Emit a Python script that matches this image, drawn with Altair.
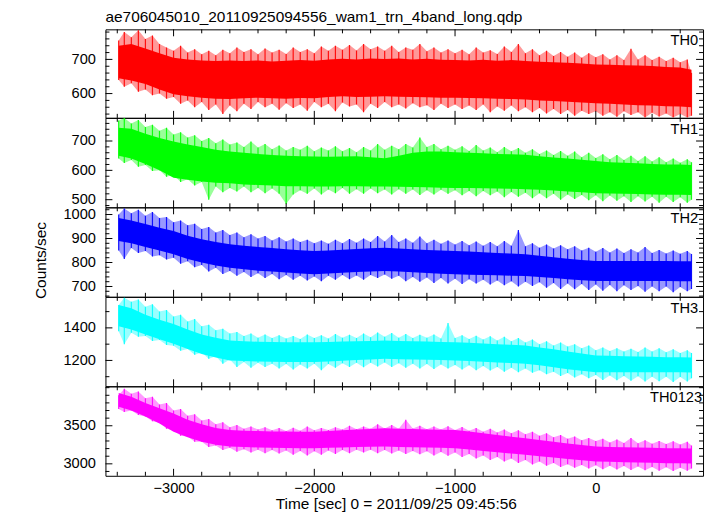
import altair as alt
import pandas as pd

FONT = "Liberation Sans"
TITLE = "ae706045010_20110925094556_wam1_trn_4band_long.qdp"
X_TITLE = "Time [sec] 0 = 2011/09/25 09:45:56"
Y_TITLE = "Counts/sec"

# ---- outer envelope (spikes), 50 s bins ----
TIME = [
    -3390, -3350, -3300, -3250, -3200, -3150, -3100, -3050, -3000, -2950,
    -2900, -2850, -2800, -2750, -2700, -2650, -2600, -2550, -2500, -2450,
    -2400, -2350, -2300, -2250, -2200, -2150, -2100, -2050, -2000, -1950,
    -1900, -1850, -1800, -1750, -1700, -1650, -1600, -1550, -1500, -1450,
    -1400, -1350, -1300, -1250, -1200, -1150, -1100, -1050, -1000, -950,
    -900, -850, -800, -750, -700, -650, -600, -550, -500, -450,
    -400, -350, -300, -250, -200, -150, -100, -50, 0, 50,
    100, 150, 200, 250, 300, 350, 400, 450, 500, 550,
    600, 650, 680,
]

TH0_HI = [
    755, 780, 765, 785, 760, 770, 745, 735, 725, 740,
    720, 730, 715, 725, 712, 728, 718, 735, 722, 730,
    715, 732, 720, 728, 716, 735, 722, 730, 718, 738,
    725, 740, 728, 742, 726, 745, 730, 738, 725, 740,
    722, 735, 728, 745, 724, 735, 720, 730, 718, 728,
    715, 735, 720, 727, 716, 738, 722, 745, 718, 730,
    712, 725, 710, 722, 708, 720, 705, 718, 706, 715,
    700, 712, 698, 731, 700, 712, 698, 708, 695, 705,
    692, 700, 660,
]
TH0_LO = [
    640, 620, 630, 605, 612, 595, 600, 585, 590, 570,
    580, 560, 575, 552, 568, 540, 565, 548, 570, 555,
    575, 560, 570, 553, 572, 558, 568, 550, 575, 560,
    570, 548, 574, 562, 568, 545, 570, 558, 575, 560,
    568, 556, 572, 560, 566, 552, 570, 558, 568, 555,
    565, 552, 568, 545, 562, 550, 565, 548, 560, 545,
    558, 542, 555, 540, 552, 535, 550, 540, 548, 535,
    545, 532, 548, 537, 545, 530, 544, 533, 542, 530,
    540, 530, 535,
]
TH1_HI = [
    770, 778, 760, 772, 748, 755, 735, 745, 722, 730,
    712, 720, 700, 710, 692, 705, 688, 695, 680, 698,
    678, 690, 672, 685, 668, 680, 670, 684, 665, 678,
    668, 682, 665, 676, 662, 680, 668, 690, 670, 684,
    672, 690, 678, 712, 680, 690, 672, 684, 670, 682,
    666, 686, 668, 678, 662, 680, 665, 676, 660, 672,
    656, 668, 652, 666, 650, 664, 645, 660, 642, 655,
    638, 652, 635, 650, 632, 648, 630, 645, 628, 640,
    626, 638, 628,
]
TH1_LO = [
    640, 625, 635, 612, 618, 598, 600, 578, 585, 560,
    570, 548, 560, 500, 545, 525, 540, 528, 545, 525,
    540, 522, 538, 520, 485, 518, 532, 520, 538, 518,
    535, 522, 540, 520, 536, 520, 538, 522, 535, 518,
    536, 520, 535, 516, 532, 518, 534, 520, 532, 515,
    530, 512, 530, 515, 528, 508, 526, 510, 524, 505,
    522, 505, 520, 500, 518, 502, 516, 498, 515, 495,
    514, 496, 512, 492, 512, 494, 510, 490, 510, 492,
    508, 490, 500,
]
TH2_HI = [
    1000, 1025, 1005, 1020, 995, 1010, 985, 990, 968, 975,
    955, 962, 940, 948, 925, 935, 915, 925, 905, 918,
    900, 910, 892, 905, 888, 900, 885, 895, 880, 892,
    878, 895, 880, 898, 882, 900, 885, 910, 888, 915,
    885, 900, 882, 908, 880, 895, 878, 892, 875, 890,
    872, 888, 870, 885, 868, 890, 870, 935, 868, 880,
    862, 875, 858, 872, 855, 868, 850, 862, 845, 860,
    842, 858, 840, 855, 842, 865, 840, 852, 838, 850,
    836, 848, 835,
]
TH2_LO = [
    850, 815, 860, 840, 848, 825, 830, 812, 820, 795,
    805, 780, 790, 762, 778, 752, 765, 745, 760, 740,
    755, 735, 752, 730, 748, 728, 745, 725, 742, 722,
    745, 728, 748, 730, 746, 728, 748, 735, 750, 732,
    745, 722, 740, 720, 738, 715, 735, 712, 732, 710,
    730, 712, 728, 708, 725, 705, 722, 700, 720, 702,
    718, 695, 715, 690, 712, 688, 710, 685, 708, 682,
    706, 680, 705, 685, 702, 678, 700, 680, 700, 676,
    698, 680, 690,
]
TH3_HI = [
    1540, 1585, 1560, 1575, 1530, 1545, 1500, 1510, 1470, 1480,
    1440, 1455, 1410, 1420, 1385, 1395, 1365, 1375, 1350, 1365,
    1340, 1360, 1338, 1355, 1335, 1350, 1332, 1360, 1338, 1355,
    1335, 1362, 1340, 1358, 1338, 1365, 1342, 1372, 1345, 1368,
    1340, 1362, 1338, 1358, 1340, 1360, 1335, 1430, 1338, 1355,
    1332, 1352, 1328, 1348, 1322, 1345, 1318, 1338, 1310, 1328,
    1300, 1318, 1292, 1310, 1285, 1300, 1275, 1292, 1262, 1280,
    1258, 1275, 1255, 1272, 1252, 1280, 1255, 1275, 1250, 1268,
    1245, 1262, 1245,
]
TH3_LO = [
    1380, 1300, 1370, 1345, 1350, 1320, 1325, 1295, 1290, 1260,
    1270, 1235, 1248, 1210, 1225, 1180, 1205, 1160, 1190, 1155,
    1185, 1160, 1180, 1150, 1178, 1145, 1175, 1150, 1180, 1140,
    1178, 1155, 1182, 1160, 1185, 1158, 1185, 1162, 1188, 1160,
    1182, 1155, 1180, 1150, 1178, 1148, 1175, 1150, 1172, 1145,
    1170, 1140, 1165, 1138, 1160, 1130, 1155, 1128, 1150, 1125,
    1140, 1115, 1130, 1105, 1122, 1095, 1115, 1090, 1110, 1080,
    1108, 1078, 1105, 1075, 1102, 1070, 1100, 1072, 1100, 1068,
    1098, 1070, 1090,
]
TH0123_HI = [
    3900, 3985, 3920, 3950, 3860, 3880, 3780, 3800, 3700, 3720,
    3630, 3650, 3570, 3590, 3520, 3545, 3480, 3510, 3460, 3490,
    3450, 3480, 3440, 3470, 3430, 3475, 3435, 3490, 3440, 3470,
    3445, 3480, 3450, 3500, 3455, 3490, 3460, 3520, 3465, 3510,
    3460, 3580, 3465, 3500, 3455, 3490, 3450, 3495, 3445, 3485,
    3435, 3470, 3420, 3460, 3410, 3450, 3400, 3440, 3390, 3420,
    3370, 3400, 3350, 3380, 3330, 3360, 3310, 3340, 3300, 3330,
    3280, 3320, 3275, 3340, 3270, 3310, 3265, 3300, 3260, 3295,
    3255, 3290, 3240,
]
TH0123_LO = [
    3720, 3680, 3700, 3640, 3620, 3560, 3540, 3460, 3440, 3370,
    3360, 3290, 3290, 3220, 3240, 3180, 3210, 3160, 3190, 3150,
    3185, 3140, 3180, 3135, 3175, 3120, 3170, 3110, 3165, 3120,
    3175, 3130, 3180, 3140, 3185, 3150, 3185, 3140, 3180, 3135,
    3175, 3130, 3170, 3125, 3165, 3110, 3155, 3105, 3150, 3090,
    3130, 3070, 3110, 3050, 3090, 3030, 3070, 3010, 3050, 2990,
    3030, 2975, 3010, 2960, 2995, 2950, 2985, 2940, 2980, 2930,
    2975, 2925, 2970, 2920, 2965, 2915, 2960, 2910, 2955, 2905,
    2950, 2910, 2940,
]

# ---- dense core of each band, 100 s bins ----
CORE_TIME = [
    -3390, -3300, -3200, -3100, -3000, -2900, -2800, -2700, -2600, -2500,
    -2400, -2300, -2200, -2100, -2000, -1900, -1800, -1700, -1600, -1500,
    -1400, -1300, -1200, -1100, -1000, -900, -800, -700, -600, -500,
    -400, -300, -200, -100, 0, 100, 200, 300, 400, 500,
    600, 680,
]
TH0_CORE_HI = [
    740, 745, 732, 718, 705, 700, 697, 695, 697, 695,
    697, 694, 696, 698, 696, 700, 702, 700, 703, 701,
    703, 700, 702, 699, 698, 697, 699, 696, 698, 695,
    693, 692, 690, 688, 685, 684, 683, 682, 681, 678,
    676, 670,
]
TH0_CORE_LO = [
    645, 638, 628, 612, 598, 592, 588, 585, 584, 586,
    588, 586, 585, 587, 586, 590, 592, 590, 591, 592,
    591, 590, 589, 588, 588, 587, 586, 585, 584, 583,
    580, 578, 576, 574, 572, 570, 568, 566, 565, 563,
    562, 560,
]
TH1_CORE_HI = [
    745, 742, 725, 710, 698, 688, 680, 670, 664, 660,
    656, 652, 650, 648, 647, 646, 647, 648, 645, 641,
    650, 660, 664, 664, 662, 660, 658, 656, 655, 653,
    648, 644, 640, 636, 632, 628, 626, 624, 622, 620,
    620, 618,
]
TH1_CORE_LO = [
    650, 640, 622, 600, 575, 568, 562, 558, 556, 552,
    550, 548, 546, 546, 545, 545, 546, 546, 545, 545,
    544, 543, 542, 541, 540, 540, 539, 538, 537, 536,
    534, 531, 528, 525, 522, 521, 520, 519, 518, 517,
    517, 516,
]
TH2_CORE_HI = [
    985, 975, 960, 945, 931, 912, 897, 885, 876, 870,
    865, 860, 855, 851, 848, 850, 853, 856, 859, 861,
    858, 855, 852, 850, 848, 846, 843, 840, 837, 834,
    828, 822, 816, 810, 806, 806, 806, 806, 806, 806,
    805, 805,
]
TH2_CORE_LO = [
    890, 880, 865, 850, 834, 815, 800, 788, 778, 772,
    766, 762, 758, 754, 751, 754, 757, 760, 763, 765,
    762, 759, 756, 753, 751, 749, 748, 747, 745, 744,
    740, 735, 730, 726, 723, 723, 723, 723, 723, 723,
    722, 722,
]
TH3_CORE_HI = [
    1540, 1520, 1480, 1450, 1424, 1390, 1360, 1340, 1322, 1318,
    1315, 1313, 1312, 1312, 1312, 1314, 1316, 1318, 1320, 1322,
    1320, 1318, 1316, 1314, 1312, 1308, 1304, 1300, 1296, 1292,
    1280, 1268, 1255, 1242, 1231, 1228, 1226, 1224, 1222, 1220,
    1220, 1218,
]
TH3_CORE_LO = [
    1410, 1390, 1360, 1330, 1302, 1270, 1240, 1218, 1200, 1196,
    1193, 1192, 1191, 1190, 1190, 1194, 1198, 1202, 1206, 1210,
    1208, 1206, 1204, 1202, 1200, 1196, 1192, 1188, 1184, 1180,
    1170, 1158, 1146, 1136, 1128, 1128, 1128, 1128, 1128, 1128,
    1128, 1126,
]
TH0123_CORE_HI = [
    3930, 3880, 3800, 3730, 3662, 3580, 3520, 3470, 3444, 3435,
    3430, 3426, 3424, 3422, 3422, 3430, 3440, 3450, 3458, 3466,
    3462, 3458, 3452, 3448, 3444, 3425, 3400, 3380, 3355, 3335,
    3312, 3290, 3268, 3246, 3226, 3222, 3218, 3214, 3210, 3205,
    3205, 3200,
]
TH0123_CORE_LO = [
    3750, 3700, 3620, 3530, 3422, 3350, 3290, 3250, 3226, 3220,
    3215, 3210, 3207, 3205, 3205, 3210, 3215, 3220, 3224, 3226,
    3222, 3218, 3214, 3210, 3205, 3188, 3170, 3152, 3135, 3118,
    3100, 3082, 3064, 3046, 3030, 3026, 3022, 3018, 3014, 3009,
    3008, 3005,
]

NAMES = ["TH0", "TH1", "TH2", "TH3", "TH0123"]
HI = [TH0_HI, TH1_HI, TH2_HI, TH3_HI, TH0123_HI]
LO = [TH0_LO, TH1_LO, TH2_LO, TH3_LO, TH0123_LO]
CORE_HI = [TH0_CORE_HI, TH1_CORE_HI, TH2_CORE_HI, TH3_CORE_HI, TH0123_CORE_HI]
CORE_LO = [TH0_CORE_LO, TH1_CORE_LO, TH2_CORE_LO, TH3_CORE_LO, TH0123_CORE_LO]
COLORS = ["#ff0000", "#00ff00", "#0000ff", "#00ffff", "#ff00ff"]

X_DOMAIN = [-3484, 762]
X_MAJOR = [-3000, -2000, -1000, 0]
X_MINOR = [-3400, -3200, -2800, -2600, -2400, -2200, -1800, -1600, -1400,
           -1200, -800, -600, -400, -200, 200, 400, 600]

Y_DOMAINS = [[529, 788], [474, 779], [657, 1030], [1041, 1591], [2843, 4018]]
Y_MAJOR = [[600, 700], [500, 600, 700], [700, 800, 900, 1000], [1200, 1400], [3000, 3500]]
Y_MINOR = [
    [540, 560, 580, 620, 640, 660, 680, 720, 740, 760, 780],
    [480, 520, 540, 560, 580, 620, 640, 660, 680, 720, 740, 760],
    [660, 680, 720, 740, 760, 780, 820, 840, 860, 880, 920, 940, 960, 980, 1020],
    [1100, 1300, 1500],
    [2900, 3100, 3200, 3300, 3400, 3600, 3700, 3800, 3900, 4000],
]

W = 601
HEIGHTS = [89, 90, 90, 90, 90]
LABEL_X = [W - 5, W - 5, W - 5, W - 5, W - 1]
MAJOR_LEN = 7
MINOR_LEN = 4


def panel(i):
    H = HEIGHTS[i]
    xs = alt.Scale(domain=X_DOMAIN, nice=False, zero=False)
    ys = alt.Scale(domain=Y_DOMAINS[i], nice=False, zero=False)

    if i == 4:
        xaxis = alt.Axis(values=X_MAJOR, format="d", orient="bottom", ticks=False,
                         tickSize=0, domain=False, grid=False, labelPadding=5,
                         labelFontSize=14.7, labelFont=FONT, labelColor="black",
                         labelFlush=False, title=X_TITLE, titleFont=FONT,
                         titleFontSize=15.5, titleFontWeight="normal",
                         titleColor="black", titleX=292, titleY=33,
                         titleBaseline="alphabetic", titleAlign="center")
    else:
        xaxis = None

    ykw = dict(values=Y_MAJOR[i], format="d", orient="left", ticks=False, tickSize=0,
               domain=False, grid=False, labelPadding=10, labelFontSize=14.7,
               labelFont=FONT, labelColor="black", labelFlush=False)
    if i == 2:
        ykw.update(title=Y_TITLE, titleFont=FONT, titleFontSize=15.5,
                   titleFontWeight="normal", titleColor="black", titleX=-60,
                   titleY=53, titleBaseline="alphabetic", titleAlign="center",
                   titleAngle=270)
    else:
        ykw.update(title=None)
    yaxis = alt.Axis(**ykw)

    outer = pd.DataFrame({"t": TIME, "hi": HI[i], "lo": LO[i]})
    core = pd.DataFrame({"t": CORE_TIME, "hi": CORE_HI[i], "lo": CORE_LO[i]})

    fringe = alt.Chart(outer).mark_area(color=COLORS[i], opacity=0.4, clip=True).encode(
        x=alt.X("t:Q", scale=xs, axis=xaxis),
        y=alt.Y("hi:Q", scale=ys, axis=yaxis),
        y2=alt.Y2("lo:Q"),
    )
    spikes = alt.Chart(outer).mark_rule(color=COLORS[i], opacity=0.9, strokeWidth=1.2,
                                        clip=True).encode(
        x=alt.X("t:Q", scale=xs, axis=None),
        y=alt.Y("hi:Q", scale=ys, axis=None),
        y2=alt.Y2("lo:Q"),
    )
    dense = alt.Chart(core).mark_area(color=COLORS[i], opacity=1, clip=True).encode(
        x=alt.X("t:Q", scale=xs, axis=None),
        y=alt.Y("hi:Q", scale=ys, axis=None),
        y2=alt.Y2("lo:Q"),
    )
    layers = [fringe, spikes, dense]

    # inward ticks on all four sides, drawn from the tick value lists
    for vals, size in [(Y_MAJOR[i], MAJOR_LEN), (Y_MINOR[i], MINOR_LEN)]:
        d = pd.DataFrame({"v": vals})
        for x0, x1 in [(0, size), (W, W - size)]:
            layers.append(alt.Chart(d).mark_rule(color="black", strokeWidth=1).encode(
                y=alt.Y("v:Q", scale=ys, axis=None),
                x=alt.value(x0), x2=alt.value(x1)))
    for vals, size in [(X_MAJOR, MAJOR_LEN), (X_MINOR, MINOR_LEN)]:
        d = pd.DataFrame({"v": vals})
        for y0, y1 in [(0, size), (H, H - size)]:
            layers.append(alt.Chart(d).mark_rule(color="black", strokeWidth=1).encode(
                x=alt.X("v:Q", scale=xs, axis=None),
                y=alt.value(y0), y2=alt.value(y1)))

    label = alt.Chart(pd.DataFrame({"s": [NAMES[i]]})).mark_text(
        align="right", baseline="alphabetic", font=FONT, fontSize=14.7, color="black"
    ).encode(x=alt.value(LABEL_X[i]), y=alt.value(16), text="s:N")
    layers.append(label)

    if i == 0:
        title = alt.Chart(pd.DataFrame({"s": [TITLE]})).mark_text(
            align="left", baseline="alphabetic", font=FONT, fontSize=15.5, color="black"
        ).encode(x=alt.value(0), y=alt.value(-7), text="s:N")
        layers.append(title)

    return alt.layer(*layers).resolve_axis(x="independent", y="independent").properties(
        width=W, height=H)


chart = alt.vconcat(*[panel(i) for i in range(5)], spacing=0, bounds="flush").properties(
    padding={"left": 25, "top": 0, "right": 5, "bottom": 5},
    background="white",
).configure_view(stroke="black", strokeWidth=1)

chart.save("out.html", embed_options={"renderer": "svg", "actions": False})
